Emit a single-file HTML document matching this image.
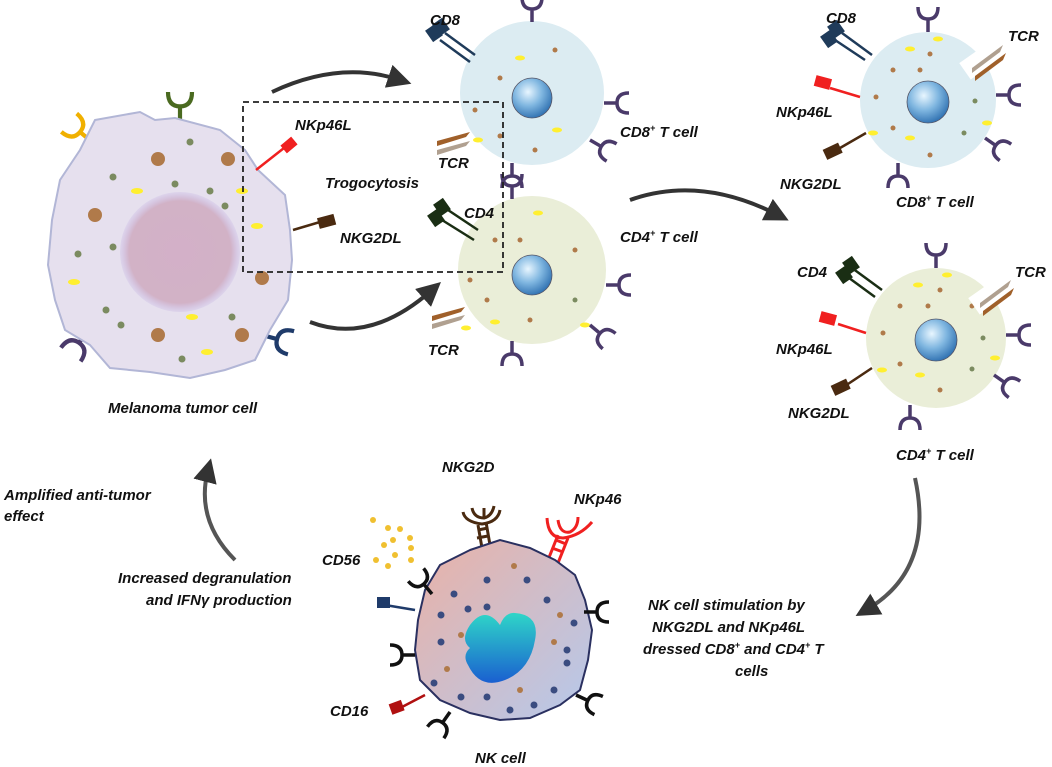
<!DOCTYPE html>
<html><head><meta charset="utf-8"><style>
html,body{margin:0;padding:0;background:#fff;}
svg{display:block;}
text{font-family:"Liberation Sans",Arial,sans-serif;font-weight:bold;font-style:italic;font-size:15px;fill:#111;}
</style></head><body>
<svg width="1052" height="767" viewBox="0 0 1052 767" xmlns="http://www.w3.org/2000/svg">
<defs>
<radialGradient id="nuc" cx="0.5" cy="0.5" r="0.5"><stop offset="0" stop-color="#d3b0c8"/><stop offset="0.85" stop-color="#d2b2c6"/><stop offset="1" stop-color="#c8b8e4" stop-opacity="0.3"/></radialGradient>
<radialGradient id="tn" cx="0.4" cy="0.35" r="0.7"><stop offset="0" stop-color="#e8f6ff"/><stop offset="0.5" stop-color="#7fb6e0"/><stop offset="1" stop-color="#2a6cae"/></radialGradient>
<linearGradient id="nk" x1="0" y1="0" x2="1" y2="1"><stop offset="0" stop-color="#eab1a6"/><stop offset="1" stop-color="#b5c9ec"/></linearGradient>
<linearGradient id="nkn" x1="0" y1="0" x2="0" y2="1"><stop offset="0" stop-color="#2fd6c8"/><stop offset="1" stop-color="#1a5fd0"/></linearGradient>
<g id="Y" fill="none" stroke-width="3.5"><path d="M0,0 L0,-13 M-10,-25 Q-10,-13 0,-13 Q10,-13 10,-25"/></g>
<marker id="ah" markerWidth="6" markerHeight="6" refX="3" refY="3" orient="auto" markerUnits="strokeWidth"><path d="M0,0 L6,3 L0,6 Z" fill="#333"/></marker>
</defs>

<!-- arrows -->
<path d="M272,92 Q340,60 400,80" fill="none" stroke="#333" stroke-width="4" marker-end="url(#ah)"/>
<path d="M310,322 Q370,345 432,290" fill="none" stroke="#333" stroke-width="4" marker-end="url(#ah)"/>
<path d="M630,200 Q700,175 778,215" fill="none" stroke="#333" stroke-width="4" marker-end="url(#ah)"/>
<path d="M915,478 Q935,570 866,610" fill="none" stroke="#555" stroke-width="4" marker-end="url(#ah)"/>
<path d="M235,560 Q195,520 208,470" fill="none" stroke="#555" stroke-width="4" marker-end="url(#ah)"/>

<!-- Melanoma cell -->
<g stroke="#f0b000"><use href="#Y" transform="translate(92,142) rotate(-50) scale(1.2)"/></g>
<g stroke="#4a6a20"><use href="#Y" transform="translate(180,122) scale(1.2)"/></g>
<g stroke="#4a3a6a"><use href="#Y" transform="translate(88,330) rotate(-145) scale(1.2)"/></g>
<g stroke="#1f3b6a"><use href="#Y" transform="translate(262,335) rotate(105) scale(1.2)"/></g>
<path d="M95,120 L140,112 L155,120 L175,118 L220,130 L245,150 L258,170 L285,195 L290,230 L292,260 L288,300 L270,330 L255,360 L225,370 L190,378 L150,372 L110,368 L90,345 L65,330 L55,300 L48,265 L52,220 L60,180 L80,150 Z" fill="#e6e0ee" stroke="#b2b6d6" stroke-width="2"/>
<circle cx="180" cy="252" r="60" fill="url(#nuc)"/>
<g fill="#b07a4a"><circle cx="158" cy="159" r="7"/><circle cx="228" cy="159" r="7"/><circle cx="95" cy="215" r="7"/><circle cx="262" cy="278" r="7"/><circle cx="158" cy="335" r="7"/><circle cx="242" cy="335" r="7"/></g>
<g fill="#7b8b60"><circle cx="190" cy="142" r="3.5"/><circle cx="113" cy="177" r="3.5"/><circle cx="175" cy="184" r="3.5"/><circle cx="210" cy="191" r="3.5"/><circle cx="225" cy="206" r="3.5"/><circle cx="113" cy="247" r="3.5"/><circle cx="78" cy="254" r="3.5"/><circle cx="106" cy="310" r="3.5"/><circle cx="121" cy="325" r="3.5"/><circle cx="232" cy="317" r="3.5"/><circle cx="182" cy="359" r="3.5"/></g>
<g fill="#ffef30"><ellipse cx="137" cy="191" rx="6" ry="3"/><ellipse cx="242" cy="191" rx="6" ry="3"/><ellipse cx="257" cy="226" rx="6" ry="3"/><ellipse cx="74" cy="282" rx="6" ry="3"/><ellipse cx="192" cy="317" rx="6" ry="3"/><ellipse cx="207" cy="352" rx="6" ry="3"/></g>
<path d="M256,170 L284,148" stroke="#f02020" stroke-width="2.5"/><rect x="282" y="140" width="14" height="10" fill="#f02020" transform="rotate(-40 289 145)"/>
<path d="M293,230 L320,222" stroke="#4a2a10" stroke-width="2.5"/><rect x="318" y="216" width="17" height="11" fill="#4a2a10" transform="rotate(-15 326 221)"/>
<text x="108" y="413">Melanoma tumor cell</text>

<!-- middle CD8 T cell -->
<circle cx="532" cy="93" r="72" fill="#dcecf2"/>
<circle cx="532" cy="98" r="20" fill="url(#tn)" stroke="#556" stroke-width="0.8"/>
<g fill="#b07a4a"><circle cx="500" cy="78" r="2.5"/><circle cx="555" cy="50" r="2.5"/><circle cx="500" cy="136" r="2.5"/><circle cx="475" cy="110" r="2.5"/><circle cx="535" cy="150" r="2.5"/></g>
<g fill="#ffef30"><ellipse cx="478" cy="140" rx="5" ry="2.5"/><ellipse cx="520" cy="58" rx="5" ry="2.5"/><ellipse cx="557" cy="130" rx="5" ry="2.5"/></g>
<g stroke="#4a3a6a"><use href="#Y" transform="translate(604,103) rotate(90)"/><use href="#Y" transform="translate(590,140) rotate(120)"/><use href="#Y" transform="translate(512,163) rotate(180)"/><use href="#Y" transform="translate(532,22)"/></g>
<path d="M470,62 L440,40 M475,55 L445,33" stroke="#1f3b5a" stroke-width="2.5"/><rect x="428" y="26" width="12" height="14" fill="#1f3b5a" transform="rotate(-35 434 33)"/><rect x="435" y="20" width="12" height="14" fill="#1f3b5a" transform="rotate(-35 441 27)"/>
<text x="430" y="25">CD8</text>
<path d="M437,141 L470,132 L466,137 L437,146Z" fill="#a0602a"/><path d="M437,150 L470,141 L466,146 L437,155Z" fill="#b0a090"/>
<text x="620" y="137">CD8<tspan font-size="9" dy="-6">+</tspan><tspan dy="6"> T cell</tspan></text>

<!-- middle CD4 T cell -->
<circle cx="532" cy="270" r="74" fill="#eaeed8"/>
<circle cx="532" cy="275" r="20" fill="url(#tn)" stroke="#556" stroke-width="0.8"/>
<g fill="#b07a4a"><circle cx="495" cy="240" r="2.5"/><circle cx="520" cy="240" r="2.5"/><circle cx="575" cy="250" r="2.5"/><circle cx="487" cy="300" r="2.5"/><circle cx="530" cy="320" r="2.5"/><circle cx="470" cy="280" r="2.5"/></g>
<g fill="#7b8b60"><circle cx="575" cy="300" r="2.5"/></g>
<g fill="#ffef30"><ellipse cx="538" cy="213" rx="5" ry="2.5"/><ellipse cx="495" cy="322" rx="5" ry="2.5"/><ellipse cx="585" cy="325" rx="5" ry="2.5"/><ellipse cx="466" cy="328" rx="5" ry="2.5"/></g>
<g stroke="#4a3a6a"><use href="#Y" transform="translate(606,285) rotate(90)"/><use href="#Y" transform="translate(590,325) rotate(130)"/><use href="#Y" transform="translate(512,341) rotate(180)"/><use href="#Y" transform="translate(512,199)"/></g>
<path d="M478,230 L448,210 M474,240 L442,220" stroke="#1a2e14" stroke-width="2.5"/><rect x="436" y="200" width="12" height="14" fill="#1a2e14" transform="rotate(-35 442 207)"/><rect x="430" y="211" width="12" height="14" fill="#1a2e14" transform="rotate(-35 436 218)"/>
<path d="M432,316 L465,307 L461,312 L432,321Z" fill="#a0602a"/><path d="M432,324 L465,315 L461,320 L432,329Z" fill="#b0a090"/>
<text x="428" y="355">TCR</text>
<text x="620" y="242">CD4<tspan font-size="9" dy="-6">+</tspan><tspan dy="6"> T cell</tspan></text>

<!-- dashed box on top -->
<rect x="243" y="102" width="260" height="170" fill="none" stroke="#222" stroke-width="1.8" stroke-dasharray="6,4"/>
<text x="295" y="130">NKp46L</text>
<text x="325" y="188">Trogocytosis</text>
<text x="340" y="243">NKG2DL</text>
<text x="438" y="168">TCR</text>
<text x="464" y="218">CD4</text>

<!-- right CD8 T cell -->
<circle cx="928" cy="100" r="68" fill="#dcecf2"/>
<circle cx="928" cy="102" r="21" fill="url(#tn)" stroke="#556" stroke-width="0.8"/>
<g fill="#b07a4a"><circle cx="930" cy="54" r="2.5"/><circle cx="893" cy="70" r="2.5"/><circle cx="920" cy="70" r="2.5"/><circle cx="876" cy="97" r="2.5"/><circle cx="893" cy="128" r="2.5"/><circle cx="930" cy="155" r="2.5"/></g>
<g fill="#7b8b60"><circle cx="975" cy="101" r="2.5"/><circle cx="964" cy="133" r="2.5"/></g>
<g fill="#ffef30"><ellipse cx="938" cy="39" rx="5" ry="2.5"/><ellipse cx="910" cy="49" rx="5" ry="2.5"/><ellipse cx="873" cy="133" rx="5" ry="2.5"/><ellipse cx="910" cy="138" rx="5" ry="2.5"/><ellipse cx="987" cy="123" rx="5" ry="2.5"/></g>
<g stroke="#4a3a6a"><use href="#Y" transform="translate(928,32)"/><use href="#Y" transform="translate(996,95) rotate(90)"/><use href="#Y" transform="translate(985,138) rotate(125)"/><use href="#Y" transform="translate(898,163) rotate(180)"/></g>
<path d="M872,55 L842,33 M865,60 L835,40" stroke="#1f3b5a" stroke-width="2.5"/><rect x="830" y="22" width="12" height="14" fill="#1f3b5a" transform="rotate(-35 836 29)"/><rect x="823" y="32" width="12" height="14" fill="#1f3b5a" transform="rotate(-35 829 39)"/>
<path d="M860,97 L830,88" stroke="#f02020" stroke-width="2.5"/><rect x="815" y="77" width="16" height="11" fill="#f02020" transform="rotate(15 823 82)"/>
<path d="M866,133 L840,148" stroke="#4a2a10" stroke-width="2.5"/><rect x="824" y="146" width="17" height="11" fill="#4a2a10" transform="rotate(-25 832 151)"/>
<rect x="963" y="55" width="22" height="20" fill="#fff" transform="rotate(-35 974 65)"/>
<path d="M972,68 L1003,45 L1000,52 L972,73Z" fill="#b0a090"/><path d="M975,76 L1006,53 L1003,60 L975,81Z" fill="#a0602a"/>
<text x="826" y="23">CD8</text>
<text x="1008" y="41">TCR</text>
<text x="776" y="117">NKp46L</text>
<text x="780" y="189">NKG2DL</text>
<text x="896" y="207">CD8<tspan font-size="9" dy="-6">+</tspan><tspan dy="6"> T cell</tspan></text>

<!-- right CD4 T cell -->
<circle cx="936" cy="338" r="70" fill="#eaeed8"/>
<circle cx="936" cy="340" r="21" fill="url(#tn)" stroke="#556" stroke-width="0.8"/>
<g fill="#b07a4a"><circle cx="940" cy="290" r="2.5"/><circle cx="900" cy="306" r="2.5"/><circle cx="928" cy="306" r="2.5"/><circle cx="883" cy="333" r="2.5"/><circle cx="900" cy="364" r="2.5"/><circle cx="940" cy="390" r="2.5"/><circle cx="972" cy="306" r="2.5"/></g>
<g fill="#7b8b60"><circle cx="983" cy="338" r="2.5"/><circle cx="972" cy="369" r="2.5"/></g>
<g fill="#ffef30"><ellipse cx="947" cy="275" rx="5" ry="2.5"/><ellipse cx="918" cy="285" rx="5" ry="2.5"/><ellipse cx="882" cy="370" rx="5" ry="2.5"/><ellipse cx="920" cy="375" rx="5" ry="2.5"/><ellipse cx="995" cy="358" rx="5" ry="2.5"/></g>
<g stroke="#4a3a6a"><use href="#Y" transform="translate(936,268)"/><use href="#Y" transform="translate(1006,335) rotate(90)"/><use href="#Y" transform="translate(994,375) rotate(125)"/><use href="#Y" transform="translate(910,405) rotate(180)"/></g>
<path d="M882,290 L852,268 M875,297 L845,275" stroke="#1a2e14" stroke-width="2.5"/><rect x="845" y="258" width="12" height="14" fill="#1a2e14" transform="rotate(-35 851 265)"/><rect x="838" y="268" width="12" height="14" fill="#1a2e14" transform="rotate(-35 844 275)"/>
<path d="M866,333 L838,324" stroke="#f02020" stroke-width="2.5"/><rect x="820" y="313" width="16" height="11" fill="#f02020" transform="rotate(15 828 318)"/>
<path d="M872,368 L848,384" stroke="#4a2a10" stroke-width="2.5"/><rect x="832" y="382" width="17" height="11" fill="#4a2a10" transform="rotate(-25 840 387)"/>
<rect x="972" y="290" width="22" height="20" fill="#fff" transform="rotate(-35 983 300)"/>
<path d="M980,303 L1011,280 L1008,287 L980,308Z" fill="#b0a090"/><path d="M983,311 L1014,288 L1011,295 L983,316Z" fill="#a0602a"/>
<text x="797" y="277">CD4</text>
<text x="1015" y="277">TCR</text>
<text x="776" y="354">NKp46L</text>
<text x="788" y="418">NKG2DL</text>
<text x="896" y="460">CD4<tspan font-size="9" dy="-6">+</tspan><tspan dy="6"> T cell</tspan></text>

<!-- NK cell -->
<g fill="#f0c030"><circle cx="373" cy="520" r="3"/><circle cx="388" cy="528" r="3"/><circle cx="400" cy="529" r="3"/><circle cx="393" cy="540" r="3"/><circle cx="384" cy="545" r="3"/><circle cx="410" cy="538" r="3"/><circle cx="411" cy="548" r="3"/><circle cx="376" cy="560" r="3"/><circle cx="395" cy="555" r="3"/><circle cx="411" cy="560" r="3"/><circle cx="388" cy="566" r="3"/></g>
<g fill="none" stroke-width="3">
<path d="M482,548 L478,525 M490,545 L486,522 M478,530 L488,528 M477,538 L488,536" stroke="#4a2a10"/>
<path d="M463,512 Q465,522 482,524 Q498,522 500,510 M472,508 Q474,518 484,518 Q492,516 494,506 M484,518 L484,508" stroke="#4a2a10"/>
<path d="M548,560 L558,535 M558,563 L568,538 M552,548 L563,552 M556,540 L566,544" stroke="#f02020"/>
<path d="M547,518 Q548,538 563,538 Q580,536 592,522 M558,520 Q560,534 570,532 Q578,528 578,517" stroke="#f02020"/>
</g>
<path d="M470,550 L500,540 L530,548 L555,560 L575,575 L585,600 L592,630 L588,660 L580,690 L560,705 L530,718 L500,720 L470,713 L440,700 L420,680 L415,650 L418,620 L425,590 L440,565 Z" fill="url(#nk)" stroke="#2a3060" stroke-width="2"/>
<path d="M470,625 Q485,605 500,625 Q505,612 515,613 Q540,615 535,640 Q530,670 505,680 Q480,690 468,665 Q462,655 470,648 Q460,640 470,625Z" fill="url(#nkn)"/>
<g fill="#3a4c80"><circle cx="487" cy="580" r="3.5"/><circle cx="527" cy="580" r="3.5"/><circle cx="454" cy="594" r="3.5"/><circle cx="547" cy="600" r="3.5"/><circle cx="441" cy="615" r="3.5"/><circle cx="468" cy="609" r="3.5"/><circle cx="487" cy="607" r="3.5"/><circle cx="574" cy="623" r="3.5"/><circle cx="441" cy="642" r="3.5"/><circle cx="567" cy="650" r="3.5"/><circle cx="567" cy="663" r="3.5"/><circle cx="434" cy="683" r="3.5"/><circle cx="461" cy="697" r="3.5"/><circle cx="487" cy="697" r="3.5"/><circle cx="554" cy="690" r="3.5"/><circle cx="534" cy="705" r="3.5"/><circle cx="510" cy="710" r="3.5"/></g>
<g fill="#b07a4a"><circle cx="514" cy="566" r="3"/><circle cx="560" cy="615" r="3"/><circle cx="461" cy="635" r="3"/><circle cx="554" cy="642" r="3"/><circle cx="447" cy="669" r="3"/><circle cx="520" cy="690" r="3"/></g>
<g stroke="#111">
<use href="#Y" transform="translate(432,594) rotate(-40)"/>
<use href="#Y" transform="translate(415,655) rotate(-90)"/>
<use href="#Y" transform="translate(450,712) rotate(-145)"/>
<use href="#Y" transform="translate(584,612) rotate(90)"/>
<use href="#Y" transform="translate(576,695) rotate(115)"/>
</g>
<path d="M415,610 L385,605" stroke="#1f3b6a" stroke-width="2.5"/><rect x="377" y="597" width="13" height="11" fill="#1f3b6a"/>
<path d="M425,695 L402,707" stroke="#b01010" stroke-width="2.5"/><rect x="390" y="702" width="13" height="11" fill="#b01010" transform="rotate(-20 396 707)"/>
<text x="442" y="472">NKG2D</text>
<text x="574" y="504">NKp46</text>
<text x="322" y="565">CD56</text>
<text x="330" y="716">CD16</text>
<text x="475" y="763">NK cell</text>

<!-- side texts -->
<text x="4" y="500">Amplified anti-tumor</text>
<text x="4" y="521">effect</text>
<text x="118" y="583">Increased degranulation</text>
<text x="146" y="605">and IFNγ  production</text>
<text x="648" y="610">NK cell stimulation by</text>
<text x="652" y="632">NKG2DL and NKp46L</text>
<text x="643" y="654">dressed CD8<tspan font-size="9" dy="-6">+</tspan><tspan dy="6"> and CD4</tspan><tspan font-size="9" dy="-6">+</tspan><tspan dy="6"> T</tspan></text>
<text x="735" y="676">cells</text>
</svg>
</body></html>
